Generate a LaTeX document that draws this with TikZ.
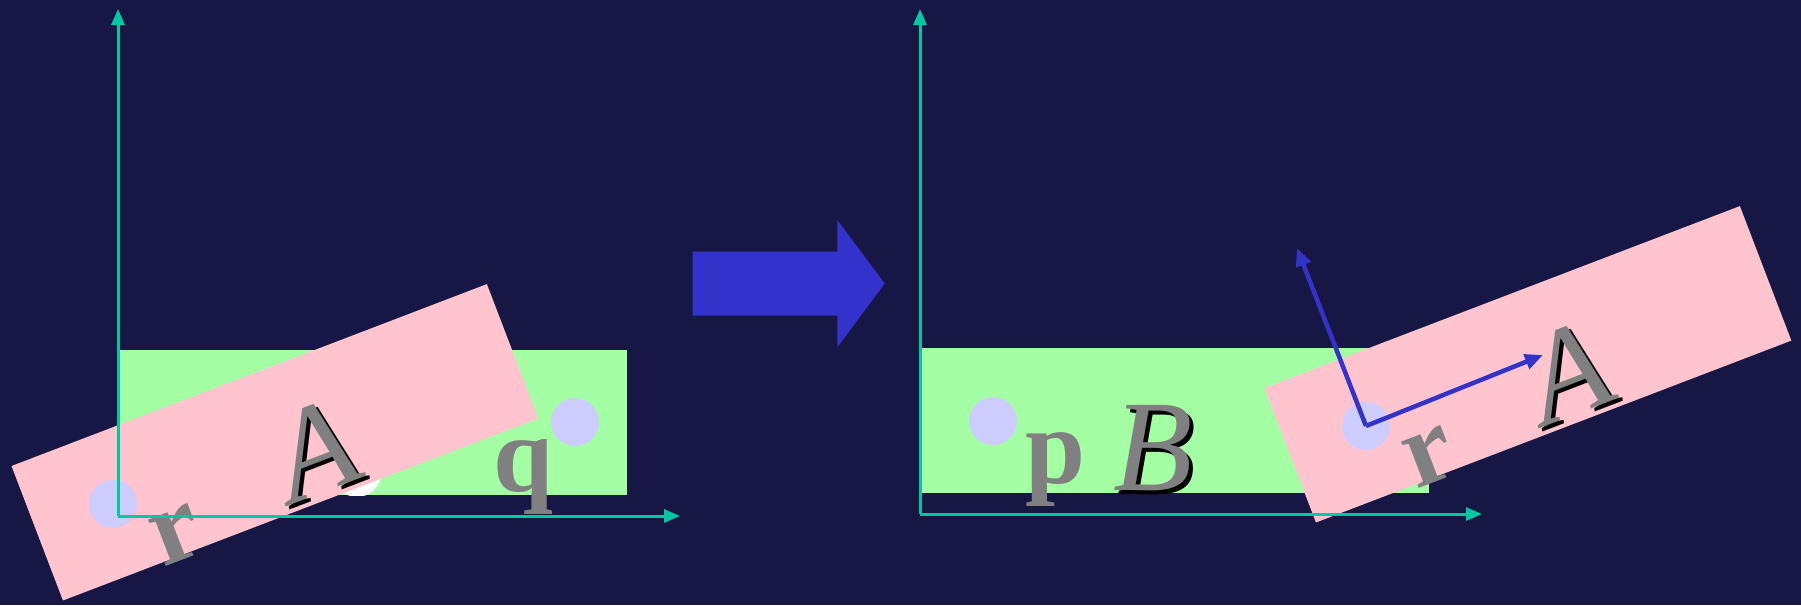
\documentclass[tikz,border=0pt]{standalone}
\usepackage{fontspec}
\setmainfont{Liberation Serif}
\usetikzlibrary{arrows.meta}

\definecolor{bgnavy}{RGB}{23,23,69}
\definecolor{axisteal}{RGB}{0,200,160}
\definecolor{boxgreen}{RGB}{164,255,164}
\definecolor{boxpink}{RGB}{255,196,206}
\definecolor{dotlav}{RGB}{204,204,255}
\definecolor{frameblue}{RGB}{51,51,204}
\definecolor{glyphgray}{RGB}{128,128,128}

\tikzset{
  axisline/.style={draw=axisteal, line width=3pt, -{Triangle[length=16pt,width=13pt]}},
  dot/.style={circle, fill=dotlav, minimum size=48pt, inner sep=0pt},
  capglyph/.style={text=glyphgray, inner sep=0pt, font=\fontsize{130}{130}\selectfont\itshape},
  capshadow/.style={text=black, inner sep=0pt, font=\fontsize{130}{130}\selectfont\itshape},
  smallglyph/.style={text=glyphgray, inner sep=0pt, font=\fontsize{108}{108}\selectfont\bfseries},
  framearrow/.style={draw=frameblue, line width=4.5pt, -{Triangle[length=18pt,width=15pt]}},
}

% the rotated body A with its point r; #1 is a suffix for the node names
\newcommand\bodyA[1]{%
  \fill[boxpink, shift={(11.5,466)}, rotate=20.94] (0,0) rectangle (509,144);
  \node[dot] (r#1) at (113,504) {};
  \node[smallglyph, rotate=21, anchor=base west] (rlab#1) at (163,568) {r};
  \node[capshadow, rotate=21, anchor=base] (Ash#1) at (334,493) {A};
  \node[capglyph, rotate=21, anchor=base] (A#1) at (330,490) {A};
}

\begin{document}
\begin{tikzpicture}[x=1pt, y=-1pt]
  \useasboundingbox (0,0) rectangle (1801,605);
  \fill[bgnavy] (0,0) rectangle (1801,605);

  % ---------- left: before the move ----------
  \fill[boxgreen] (118,350) rectangle (627,495);
  \begin{scope}
    \clip (118,350) rectangle (627,495);
    \fill[white] (357,473) circle[radius=24pt];
  \end{scope}
  \node[dot] (qdot) at (575,422) {};
  \node[smallglyph, anchor=base west] (qlab) at (493,491) {q};
  \bodyA{L}
  \coordinate (O1) at (118,516);
  \coordinate (X1) at (680,516);
  \coordinate (Y1) at (118,9);
  \draw[axisline] (O1) -- (X1);
  \draw[axisline] (O1) -- (Y1);

  % ---------- the big arrow ----------
  \fill[frameblue] (692.7,251.7) -- (837.3,251.7) -- (837.3,220) -- (884.7,283.5)
     -- (837.3,347.3) -- (837.3,315.7) -- (692.7,315.7) -- cycle;

  % ---------- right: after the move ----------
  \fill[boxgreen] (920,348) rectangle (1429,493);
  \node[dot] (pdot) at (993,421) {};
  \node[smallglyph, anchor=base west] (plab) at (1025,483) {p};
  \node[capshadow, anchor=base west] (Bsh) at (1117,494) {B};
  \node[capglyph, anchor=base west] (B) at (1113,490) {B};
  \begin{scope}[shift={(1253,-78)}]
    \bodyA{R}
  \end{scope}
  \coordinate (ex) at (1543,355);
  \coordinate (ey) at (1297,248);
  \draw[framearrow] (rR.center) -- (ex);
  \draw[framearrow] (rR.center) -- (ey);
  \coordinate (O2) at (920,514);
  \coordinate (X2) at (1482,514);
  \coordinate (Y2) at (920,9);
  \draw[axisline] (O2) -- (X2);
  \draw[axisline] (O2) -- (Y2);
\end{tikzpicture}
\end{document}
